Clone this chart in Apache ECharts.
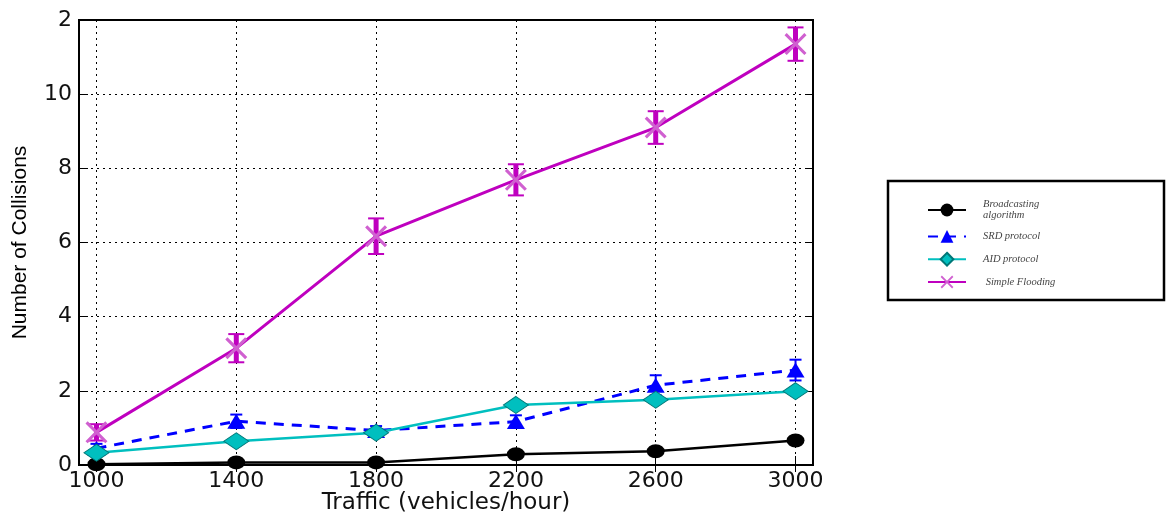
<!DOCTYPE html>
<html><head><meta charset="utf-8">
<script src="https://cdn.jsdelivr.net/npm/echarts@6/dist/echarts.min.js"></script>
<style>html,body{margin:0;padding:0;background:#fff}#c{width:1166px;height:517px}</style>
</head><body><div id="c"></div>
<script>
const traffic = [1000, 1400, 1800, 2200, 2600, 3000];
const broadcasting = [0.02, 0.07, 0.07, 0.29, 0.37, 0.66];
const srd = [0.45, 1.18, 0.93, 1.17, 2.15, 2.56];
const srdErr = [0.12, 0.18, 0.12, 0.17, 0.27, 0.28];
const aid = [0.33, 0.64, 0.87, 1.62, 1.76, 1.99];
const flooding = [0.88, 3.15, 6.17, 7.69, 9.10, 11.35];
const floodingErr = [0.22, 0.38, 0.48, 0.42, 0.44, 0.45];
const xTickLabels = ['1000', '1400', '1800', '2200', '2600', '3000'];
const yTickValues = [0, 2, 4, 6, 8, 10, 12];
const yTickLabels = ['0', '2', '4', '6', '8', '10', '2'];
const seriesNames = ['Broadcasting\nalgorithm', 'SRD protocol', 'AID protocol', ' Simple Flooding'];

const pts = (ys) => traffic.map((x, i) => [x, ys[i]]);
const errPts = (ys, es) => traffic.map((x, i) => [x, ys[i] - es[i], ys[i] + es[i]]);

function errRender(color, lw, half) {
  return function (params, api) {
    const x = api.value(0);
    const lo = api.coord([x, api.value(1)]);
    const hi = api.coord([x, api.value(2)]);
    const st = { stroke: color, lineWidth: lw };
    const cs = { stroke: color, lineWidth: 2 };
    return { type: 'group', children: [
      { type: 'line', shape: { x1: hi[0], y1: hi[1], x2: lo[0], y2: lo[1] }, style: st },
      { type: 'line', shape: { x1: hi[0] - half, y1: hi[1], x2: hi[0] + half, y2: hi[1] }, style: cs },
      { type: 'line', shape: { x1: lo[0] - half, y1: lo[1], x2: lo[0] + half, y2: lo[1] }, style: cs }
    ]};
  };
}

const xMap = {};
traffic.forEach((v, i) => xMap[v] = xTickLabels[i]);
const yMap = {};
yTickValues.forEach((v, i) => yMap[v] = yTickLabels[i]);

const xSymbol = 'path://M0,1L1,0L5,4L9,0L10,1L6,5L10,9L9,10L5,6L1,10L0,9L4,5Z';
const gridLine = { show: true, lineStyle: { color: '#000', width: 1, type: [2, 4] } };

const chart = echarts.init(document.getElementById('c'), null, { renderer: 'canvas' });
chart.setOption({
  animation: false,
  backgroundColor: '#fff',
  grid: { left: 79, right: 353, top: 20, bottom: 52, show: true, borderColor: '#000', borderWidth: 2, backgroundColor: 'transparent', containLabel: false, outerBoundsMode: 'none' },
  xAxis: [{
    type: 'value', min: 950, max: 3050, position: 'bottom',
    name: 'Traffic (vehicles/hour)', nameLocation: 'middle', nameGap: 27, nameMoveOverlap: false,
    nameTextStyle: { fontFamily: 'DejaVu Sans', fontSize: 23, color: '#111' },
    axisLine: { show: true, lineStyle: { color: '#000', width: 2 } },
    axisTick: { show: true, inside: true, length: 9, customValues: traffic, lineStyle: { color: '#000', width: 1 } },
    axisLabel: { customValues: traffic, formatter: v => xMap[v] ?? '', fontFamily: 'DejaVu Sans', fontSize: 22, color: '#111', margin: 5 },
    splitLine: gridLine
  }, {
    type: 'value', min: 950, max: 3050, position: 'top',
    axisLine: { show: false }, axisLabel: { show: false }, splitLine: { show: false },
    axisTick: { show: true, inside: true, length: 7, customValues: traffic, lineStyle: { color: '#000' } }
  }],
  yAxis: [{
    type: 'value', min: 0, max: 12, interval: 2, position: 'left',
    name: 'Number of Collisions', nameLocation: 'middle', nameGap: 48, nameMoveOverlap: false,
    nameTextStyle: { fontFamily: 'Liberation Sans', fontSize: 21, color: '#000' },
    axisLine: { show: true, lineStyle: { color: '#000', width: 2 } },
    axisTick: { show: true, inside: true, length: 9, lineStyle: { color: '#000' } },
    axisLabel: { formatter: v => yMap[v] ?? '', fontFamily: 'DejaVu Sans', fontSize: 22, color: '#111', margin: 7 },
    splitLine: gridLine
  }, {
    type: 'value', min: 0, max: 12, interval: 2, position: 'right',
    axisLine: { show: false }, axisLabel: { show: false }, splitLine: { show: false },
    axisTick: { show: true, inside: true, length: 7, lineStyle: { color: '#000' } }
  }],
  legend: {
    orient: 'vertical', left: 922, top: 194, itemWidth: 38, itemHeight: 16, itemGap: 9,
    data: seriesNames,
    textStyle: { fontFamily: 'Liberation Serif', fontStyle: 'italic', fontSize: 10.5, color: '#444', lineHeight: 11, padding: [0, 0, 0, 12] }
  },
  graphic: [{
    type: 'rect', shape: { x: 888, y: 181, width: 276, height: 119 },
    style: { fill: 'none', stroke: '#000', lineWidth: 2.5 }, silent: true
  }],
  series: [
    { name: seriesNames[0], type: 'line', data: pts(broadcasting), z: 3,
      symbol: 'circle', symbolSize: [18, 14],
      lineStyle: { color: '#000', width: 2.5 }, itemStyle: { color: '#000' } },
    { name: seriesNames[1], type: 'line', data: pts(srd), z: 4,
      symbol: 'triangle', symbolSize: [18, 15],
      lineStyle: { color: '#0000ff', width: 3, type: [10, 8] }, itemStyle: { color: '#0000ff' } },
    { name: 'srdErr', type: 'custom', data: errPts(srd, srdErr), z: 4, renderItem: errRender('#0000ff', 2, 6) },
    { name: seriesNames[2], type: 'line', data: pts(aid), z: 5,
      symbol: 'diamond', symbolSize: [25, 17],
      lineStyle: { color: '#00bfbf', width: 2.5 }, itemStyle: { color: '#00bfbf', borderColor: '#007777', borderWidth: 1 } },
    { name: seriesNames[3], type: 'line', data: pts(flooding), z: 6,
      symbol: xSymbol, symbolSize: [22, 22],
      lineStyle: { color: '#bf00bf', width: 3 }, itemStyle: { color: '#d060d0' } },
    { name: 'floodErr', type: 'custom', data: errPts(flooding, floodingErr), z: 6, renderItem: errRender('#bf00bf', 5, 8) }
  ]
});
</script>
</body></html>
